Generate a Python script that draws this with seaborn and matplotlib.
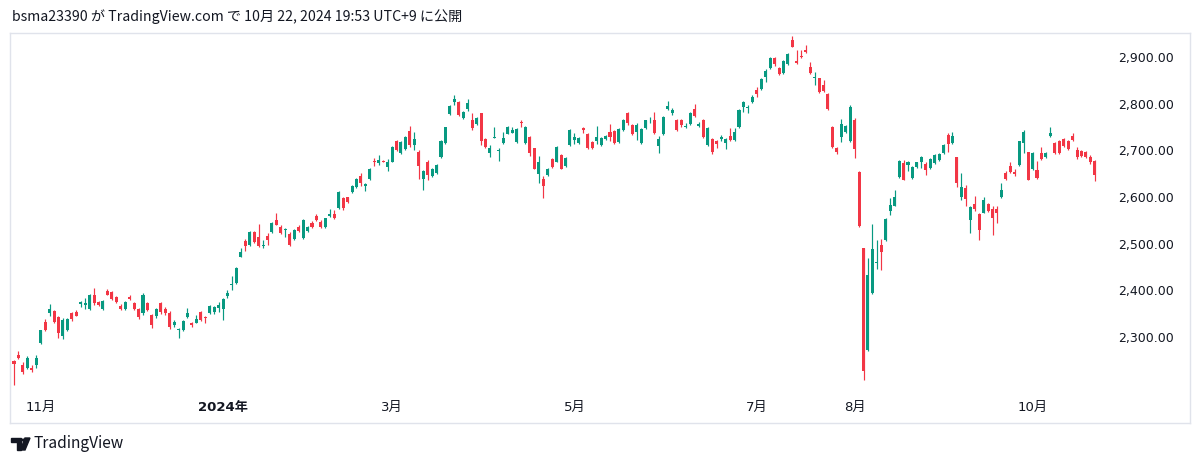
import numpy as np
import pandas as pd
import matplotlib
matplotlib.use("Agg")
import matplotlib.pyplot as plt
import seaborn as sns
from matplotlib.patches import Polygon, Circle

# daily candles, Oct 24 2023 .. Oct 22 2024
opens = [
    2249, 2261, 2240, 2234, 2234, 2240, 2287, 2333, 2351, 2356,
    2342, 2303, 2315, 2351, 2354, 2370, 2369, 2360, 2391, 2374,
    2360, 2399, 2396, 2385, 2367, 2361, 2386, 2372, 2359, 2351,
    2372, 2347, 2344, 2372, 2361, 2352, 2326, 2315, 2316, 2342,
    2329, 2331, 2354, 2342, 2351, 2353, 2362, 2361, 2387, 2411,
    2416, 2472, 2506, 2497, 2524, 2515, 2494, 2517, 2524, 2551,
    2536, 2529, 2521, 2509, 2536, 2513, 2528, 2545, 2560, 2547,
    2536, 2559, 2564, 2576, 2597, 2599, 2611, 2622, 2646, 2624,
    2638, 2677, 2672, 2678, 2664, 2676, 2719, 2694, 2702, 2741,
    2711, 2697, 2638, 2676, 2644, 2651, 2685, 2715, 2778, 2804,
    2804, 2769, 2788, 2765, 2756, 2781, 2724, 2694, 2726, 2699,
    2716, 2736, 2738, 2717, 2760, 2716, 2729, 2704, 2649, 2638,
    2647, 2681, 2676, 2690, 2666, 2711, 2723, 2715, 2747, 2735,
    2717, 2719, 2711, 2724, 2739, 2742, 2718, 2744, 2781, 2754,
    2740, 2716, 2747, 2764, 2766, 2709, 2735, 2788, 2779, 2766,
    2764, 2749, 2756, 2788, 2753, 2766, 2711, 2724, 2719, 2724,
    2715, 2731, 2722, 2749, 2792, 2790, 2804, 2829, 2831, 2858,
    2876, 2897, 2876, 2865, 2885, 2937, 2892, 2902, 2916, 2878,
    2856, 2854, 2840, 2821, 2751, 2704, 2729, 2740, 2719, 2765,
    2654, 2490, 2272, 2394, 2459, 2497, 2508, 2569, 2581, 2642,
    2672, 2669, 2640, 2665, 2676, 2671, 2662, 2672, 2679, 2694,
    2733, 2715, 2685, 2601, 2619, 2551, 2586, 2564, 2566, 2585,
    2574, 2574, 2599, 2652, 2666, 2654, 2669, 2715, 2697, 2659,
    2658, 2694, 2685, 2731, 2716, 2721, 2724, 2721, 2731, 2701,
    2699, 2697, 2685, 2678,
]
highs = [
    2251, 2270, 2247, 2259, 2240, 2261, 2316, 2338, 2370, 2358,
    2344, 2340, 2341, 2354, 2357, 2378, 2383, 2393, 2406, 2377,
    2380, 2402, 2398, 2388, 2370, 2377, 2390, 2375, 2362, 2394,
    2376, 2350, 2362, 2375, 2364, 2355, 2336, 2319, 2337, 2362,
    2332, 2348, 2356, 2344, 2368, 2366, 2376, 2383, 2401, 2431,
    2449, 2490, 2509, 2528, 2527, 2542, 2508, 2522, 2546, 2565,
    2539, 2533, 2524, 2531, 2539, 2553, 2537, 2548, 2563, 2550,
    2556, 2574, 2572, 2613, 2600, 2601, 2626, 2641, 2651, 2629,
    2662, 2684, 2690, 2680, 2681, 2710, 2722, 2719, 2731, 2752,
    2740, 2701, 2658, 2679, 2663, 2670, 2722, 2751, 2797, 2818,
    2806, 2785, 2809, 2779, 2771, 2781, 2726, 2712, 2751, 2705,
    2740, 2753, 2751, 2747, 2766, 2753, 2731, 2706, 2688, 2644,
    2663, 2683, 2710, 2692, 2686, 2745, 2738, 2728, 2750, 2737,
    2719, 2752, 2728, 2733, 2757, 2744, 2747, 2768, 2783, 2756,
    2758, 2747, 2766, 2771, 2783, 2730, 2774, 2806, 2790, 2768,
    2767, 2758, 2783, 2799, 2761, 2768, 2749, 2726, 2722, 2733,
    2726, 2747, 2747, 2788, 2806, 2797, 2819, 2836, 2854, 2874,
    2899, 2901, 2878, 2894, 2908, 2945, 2914, 2915, 2926, 2890,
    2868, 2856, 2851, 2823, 2753, 2708, 2767, 2754, 2797, 2769,
    2656, 2490, 2470, 2542, 2508, 2511, 2554, 2597, 2616, 2680,
    2679, 2677, 2667, 2676, 2688, 2674, 2683, 2692, 2694, 2713,
    2737, 2740, 2686, 2651, 2626, 2580, 2602, 2565, 2601, 2587,
    2580, 2580, 2629, 2656, 2676, 2659, 2720, 2744, 2697, 2696,
    2678, 2708, 2697, 2751, 2718, 2723, 2726, 2723, 2738, 2708,
    2701, 2699, 2690, 2680,
]
lows = [
    2197, 2252, 2220, 2231, 2224, 2233, 2285, 2313, 2346, 2331,
    2297, 2295, 2312, 2335, 2344, 2364, 2359, 2358, 2369, 2366,
    2357, 2389, 2380, 2373, 2358, 2358, 2380, 2358, 2339, 2348,
    2355, 2320, 2341, 2350, 2348, 2318, 2322, 2297, 2313, 2340,
    2321, 2329, 2335, 2331, 2349, 2350, 2354, 2336, 2383, 2401,
    2414, 2471, 2484, 2495, 2502, 2493, 2490, 2497, 2522, 2540,
    2520, 2515, 2495, 2507, 2525, 2511, 2526, 2534, 2549, 2534,
    2534, 2557, 2552, 2574, 2573, 2588, 2609, 2620, 2624, 2612,
    2636, 2666, 2669, 2674, 2655, 2674, 2699, 2692, 2700, 2708,
    2701, 2638, 2616, 2637, 2642, 2649, 2683, 2713, 2776, 2797,
    2774, 2767, 2785, 2744, 2754, 2712, 2706, 2685, 2726, 2678,
    2713, 2734, 2738, 2715, 2751, 2714, 2687, 2659, 2629, 2597,
    2645, 2662, 2674, 2659, 2664, 2709, 2713, 2713, 2737, 2702,
    2702, 2713, 2709, 2722, 2719, 2714, 2716, 2742, 2755, 2733,
    2722, 2714, 2745, 2759, 2736, 2695, 2733, 2786, 2776, 2742,
    2751, 2747, 2754, 2772, 2751, 2727, 2709, 2692, 2704, 2719,
    2702, 2720, 2719, 2747, 2783, 2781, 2801, 2815, 2829, 2847,
    2874, 2881, 2862, 2863, 2883, 2921, 2886, 2897, 2908, 2864,
    2840, 2822, 2824, 2786, 2706, 2692, 2718, 2738, 2718, 2683,
    2535, 2208, 2270, 2392, 2445, 2444, 2506, 2562, 2580, 2640,
    2636, 2655, 2638, 2663, 2662, 2647, 2660, 2670, 2677, 2692,
    2697, 2713, 2622, 2594, 2581, 2522, 2571, 2508, 2565, 2567,
    2519, 2545, 2597, 2636, 2651, 2644, 2667, 2694, 2636, 2657,
    2638, 2679, 2683, 2728, 2692, 2693, 2707, 2700, 2720, 2681,
    2685, 2683, 2671, 2635,
]
closes = [
    2242, 2254, 2224, 2256, 2229, 2254, 2314, 2316, 2360, 2333,
    2308, 2336, 2338, 2338, 2346, 2374, 2372, 2391, 2372, 2369,
    2377, 2391, 2382, 2376, 2361, 2374, 2382, 2361, 2342, 2390,
    2358, 2326, 2359, 2353, 2351, 2322, 2333, 2317, 2335, 2351,
    2326, 2338, 2337, 2340, 2366, 2364, 2369, 2381, 2394, 2414,
    2447, 2483, 2494, 2526, 2504, 2495, 2497, 2508, 2544, 2541,
    2522, 2531, 2497, 2529, 2527, 2551, 2535, 2536, 2551, 2536,
    2554, 2564, 2554, 2611, 2576, 2590, 2624, 2639, 2629, 2627,
    2660, 2674, 2679, 2676, 2676, 2708, 2701, 2717, 2729, 2711,
    2724, 2666, 2656, 2647, 2661, 2668, 2720, 2749, 2795, 2811,
    2776, 2783, 2801, 2747, 2769, 2719, 2708, 2706, 2729, 2701,
    2726, 2751, 2744, 2745, 2758, 2751, 2694, 2661, 2676, 2624,
    2661, 2664, 2708, 2661, 2684, 2743, 2728, 2726, 2744, 2704,
    2704, 2728, 2726, 2731, 2729, 2716, 2745, 2766, 2758, 2735,
    2754, 2745, 2764, 2766, 2738, 2724, 2772, 2795, 2786, 2744,
    2754, 2752, 2781, 2774, 2756, 2729, 2747, 2697, 2714, 2728,
    2724, 2722, 2740, 2786, 2804, 2793, 2815, 2821, 2852, 2871,
    2897, 2885, 2864, 2892, 2906, 2922, 2888, 2901, 2911, 2865,
    2858, 2824, 2828, 2788, 2708, 2697, 2756, 2752, 2792, 2702,
    2537, 2228, 2433, 2489, 2461, 2483, 2552, 2583, 2599, 2678,
    2637, 2676, 2665, 2674, 2685, 2658, 2681, 2690, 2692, 2711,
    2714, 2731, 2631, 2621, 2595, 2579, 2574, 2529, 2594, 2569,
    2556, 2565, 2615, 2638, 2654, 2649, 2719, 2740, 2637, 2694,
    2640, 2681, 2695, 2738, 2694, 2695, 2709, 2702, 2722, 2686,
    2687, 2685, 2674, 2647,
]

month_pos = [6, 47, 85, 126, 167, 189, 229]
month_labels = ['11月', '2024年', '3月', '5月', '7月', '8月', '10月']
price_ticks = [2300, 2400, 2500, 2600, 2700, 2800, 2900]

UP = '#089981'
DOWN = '#f23645'
TEXT = '#131722'
FRAME = '#e0e3eb'

sns.set_theme(style='white')
plt.rcParams['font.family'] = ['DejaVu Sans', 'Noto Sans CJK JP']

df = pd.DataFrame({'open': opens, 'high': highs, 'low': lows, 'close': closes})
df['idx'] = np.arange(len(df))
df['col'] = np.where(df['close'] >= df['open'], UP, DOWN)
body_lo = df[['open', 'close']].min(axis=1)
body_h = np.maximum((df['close'] - df['open']).abs(), 1.6)

W, H = 1200, 466
fig = plt.figure(figsize=(W / 100, H / 100), dpi=100)
ax = fig.add_axes([10 / W, 43 / H, 1180 / W, 390 / H])

ax.vlines(df['idx'], df['low'], df['high'], colors=df['col'], linewidth=0.85)
ax.bar(df['idx'], body_h, bottom=body_lo, width=0.68, color=df['col'], linewidth=0)

ax.set_xlim(-0.9, 264.4)
ax.set_ylim(2115.7, 2951.4)

for s in ax.spines.values():
    s.set_color(FRAME)
    s.set_linewidth(1)

ax.yaxis.tick_right()
ax.set_yticks(price_ticks)
ax.set_yticklabels([f'{v:,.2f}' for v in price_ticks])
ax.tick_params(axis='y', length=0, pad=-52, labelsize=9, labelcolor=TEXT)

ax.set_xticks(month_pos)
ax.set_xticklabels(month_labels)
ax.tick_params(axis='x', length=0, pad=-16, labelsize=9.5, labelcolor=TEXT)
for t in ax.get_xticklabels():
    if t.get_text().endswith('年'):
        t.set_fontweight('bold')

fig.text(12 / W, 1 - 17 / H, 'bsma23390 が TradingView.com で 10月 22, 2024 19:53 UTC+9 に公開',
         fontsize=10.2, color=TEXT, va='center', family=['Noto Sans CJK JP', 'DejaVu Sans'])

# TradingView logo
def fp(x, y):
    return (x / W, 1 - y / H)

fig.patches.append(Polygon([fp(11, 438), fp(21, 438), fp(21, 450), fp(17, 450), fp(17, 442), fp(11, 442)],
                           closed=True, transform=fig.transFigure, color=TEXT))
fig.patches.append(Circle(fp(23.5, 440), 2 / W, transform=fig.transFigure, color=TEXT))
fig.patches.append(Polygon([fp(25, 438), fp(30, 438), fp(25, 450), fp(20.5, 450)],
                           closed=True, transform=fig.transFigure, color=TEXT))
fig.text(34 / W, 1 - 444 / H, 'TradingView', fontsize=11.2, color=TEXT, va='center',
         family=['Noto Sans CJK JP', 'DejaVu Sans'])

fig.savefig('out.png', dpi=100, facecolor='white')
